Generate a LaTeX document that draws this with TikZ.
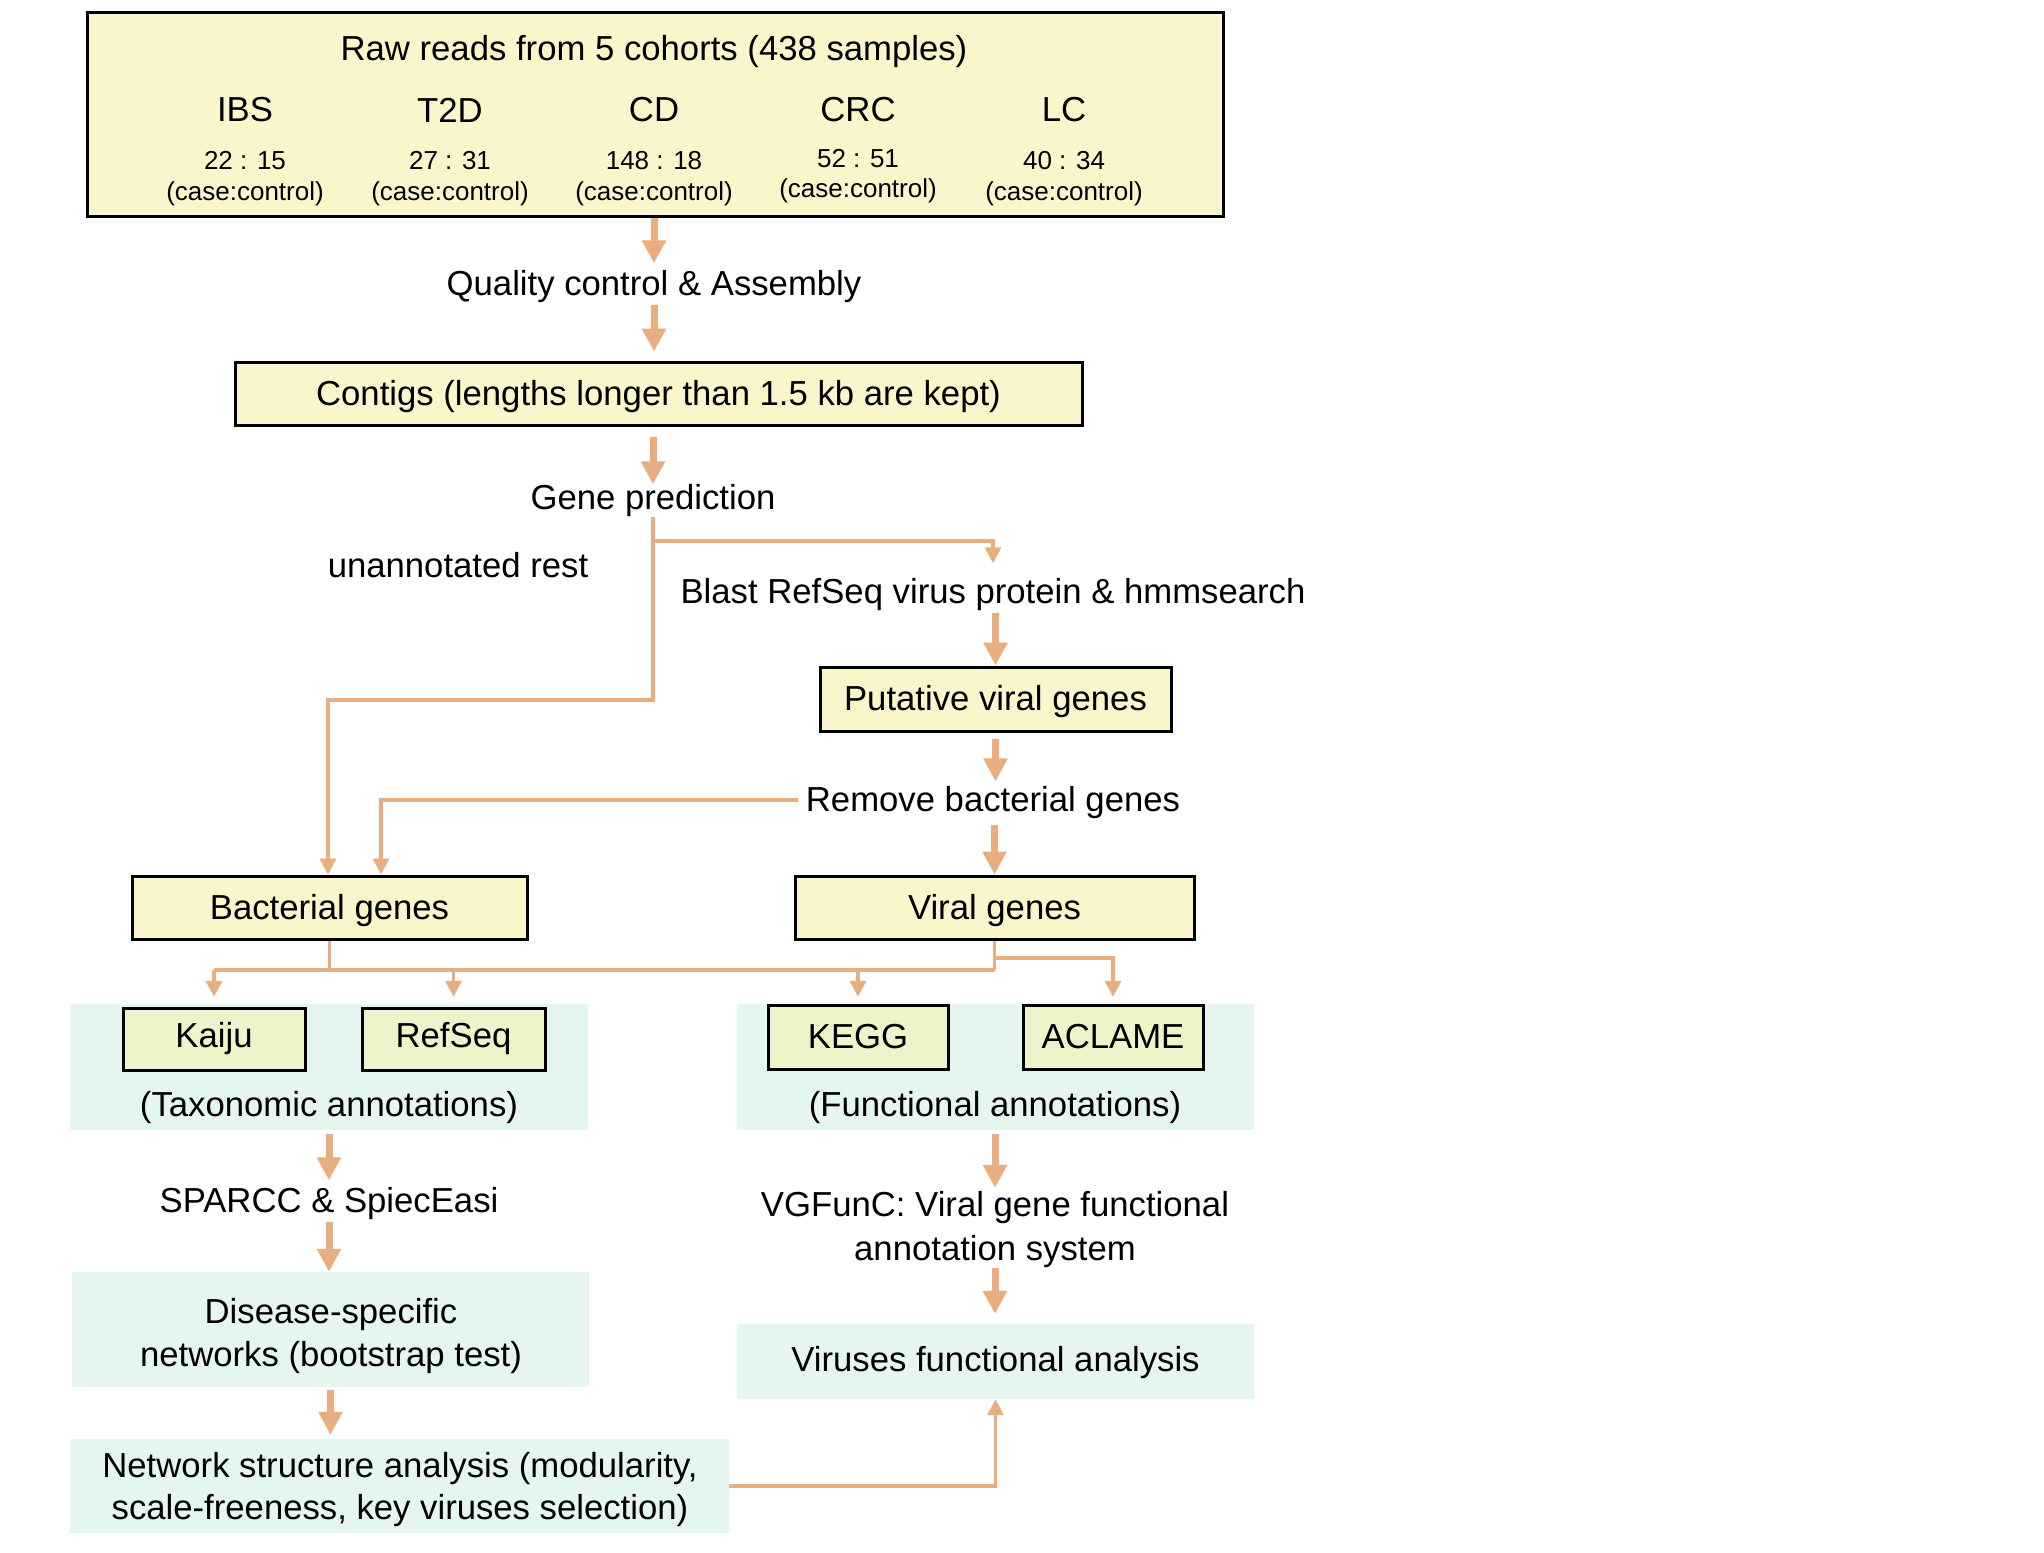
\documentclass[tikz,border=0pt]{standalone}
\usepackage{fontspec}
\setmainfont{Liberation Sans}
\usetikzlibrary{arrows.meta,calc}
\definecolor{ylw}{RGB}{251,245,203}
\definecolor{kfill}{RGB}{239,243,201}
\definecolor{grn}{RGB}{229,246,238}
\definecolor{arr}{RGB}{233,174,128}
\begin{document}
\begin{tikzpicture}[x=1pt,y=-1pt,
 every node/.style={font=\fontsize{34.7}{43}\selectfont, inner sep=0pt},
 ybox/.style={draw=black, line width=3pt, fill=ylw, text height=28pt, text depth=5pt},
 kbox/.style={draw=black, line width=3pt, fill=kfill},
 gpanel/.style={fill=grn},
 lbl/.style={text height=28pt, text depth=5pt, inner sep=4pt},
 small/.style={font=\fontsize{26}{30}\selectfont},
 thk/.style={draw=arr, line width=7pt, -{Triangle[width=23pt,length=23pt]}},
 thn/.style={draw=arr, line width=3.5pt},
 thna/.style={thn, -{Triangle[width=16pt,length=16pt]}},
]
\useasboundingbox (0,0) rectangle (2044,1552);

% top box
\node[ybox, minimum width=1136pt, minimum height=203pt] (raw) at (655,114.5) {};
\node (rawt) at (654,52) {Raw reads from 5 cohorts (438 samples)};
\node (ibs) at (245,110) {IBS};
\node (t2d) at (450,110) {T2D};
\node (cd)  at (654,110) {CD};
\node (crc) at (858,110) {CRC};
\node (lc)  at (1064,110) {LC};
\node[small] (r1) at (245,161) {22 : 15};
\node[small] (r2) at (450,161) {27 : 31};
\node[small] (r3) at (654,161) {148 : 18};
\node[small] (r4) at (858,159) {52 : 51};
\node[small] (r5) at (1064,161) {40 : 34};
\node[small] (c1) at (245,194) {(case:control)};
\node[small] (c2) at (450,194) {(case:control)};
\node[small] (c3) at (654,194) {(case:control)};
\node[small] (c4) at (858,191) {(case:control)};
\node[small] (c5) at (1064,194) {(case:control)};

\node[lbl] (qc) at (654,284) {Quality control \& Assembly};
\node[ybox, minimum width=847pt, minimum height=63pt] (contigs) at (658.5,393.5) {Contigs (lengths longer than 1.5 kb are kept)};
\node[lbl] (gp) at (653,498) {Gene prediction};
\node[lbl] (unann) at (458,566) {unannotated rest};
\node[lbl] (blast) at (993,592) {Blast RefSeq virus protein \& hmmsearch};
\node[ybox, minimum width=351pt, minimum height=64pt] (put) at (995.5,699) {Putative viral genes};
\node[lbl, inner sep=8pt] (remove) at (993,800) {Remove bacterial genes};
\node[ybox, minimum width=395pt, minimum height=63pt] (bact) at (329.5,907.5) {Bacterial genes};
\node[ybox, minimum width=399pt, minimum height=63pt] (viral) at (994.5,907.5) {Viral genes};

% annotation panels
\node[gpanel, minimum width=518pt, minimum height=126pt] (lpan) at (329,1067) {};
\node[gpanel, minimum width=517pt, minimum height=126pt] (rpan) at (995.5,1067) {};
\node[kbox, minimum width=182pt, minimum height=62pt] (kaiju) at (214,1039) {Kaiju};
\node[kbox, minimum width=183pt, minimum height=62pt] (refseq) at (453.5,1039) {RefSeq};
\node[kbox, minimum width=180pt, minimum height=64pt] (kegg) at (858,1037) {KEGG};
\node[kbox, minimum width=180pt, minimum height=64pt] (aclame) at (1113,1037) {ACLAME};
\node (taxl) at (329,1108) {(Taxonomic annotations)};
\node (funl) at (995,1108) {(Functional annotations)};

\node[lbl] (sparcc) at (329,1201) {SPARCC \& SpiecEasi};
\node[gpanel, minimum width=517pt, minimum height=115pt] (dis) at (330.5,1329.5) {};
\node[align=center, font=\fontsize{34.7}{43}\selectfont] (dist) at (331,1336) {Disease-specific\\networks (bootstrap test)};
\node[gpanel, minimum width=659pt, minimum height=94pt] (net) at (399.5,1486) {};
\node[align=center, font=\fontsize{34.7}{42}\selectfont] (nett) at (400,1490) {Network structure analysis (modularity,\\scale-freeness, key viruses selection)};

\node[minimum height=88pt, align=center, font=\fontsize{34.7}{44}\selectfont] (vgf) at (995,1230) {VGFunC: Viral gene functional\\annotation system};
\node[gpanel, minimum width=517pt, minimum height=75pt, text height=24pt, text depth=5pt] (vir) at (995.5,1361.5) {Viruses functional analysis};

% thick arrows
\draw[thk] (raw.south -| qc) -- (qc.north);
\draw[thk, shorten >=9pt] (qc.south) -- (contigs.north -| qc);
\draw[thk, shorten <=10pt, shorten >=-7pt] (contigs.south -| gp) -- (gp.north);
\draw[thk] (blast.south -| put) -- (put.north);
\draw[thk, shorten <=6pt, shorten >=-6pt] (put.south) -- (remove.north -| put);
\draw[thk] (remove.south -| viral) -- (viral.north);
\draw[thk, shorten <=4pt] (lpan.south -| sparcc) -- (sparcc.north);
\draw[thk] (sparcc.south) -- (dis.north -| sparcc);
\draw[thk, shorten <=3pt, shorten >=4pt] (dis.south) -- (net.north -| dis);
\draw[thk, shorten <=4pt, shorten >=-2pt] (rpan.south -| vgf) -- (vgf.north);
\draw[thk, shorten <=-6pt, shorten >=10pt] (vgf.south) -- (vir.north -| vgf);

% thin connectors
\draw[thn, line cap=rect] (gp.south) -- (gp.south |- 0,700) -| (bact.north -| 328,0) [-{Triangle[width=16pt,length=16pt]}];
\draw[thna] (gp.south |- 0,541) -| ($(blast.north -| 993,0)+(0,-8)$);
\draw[thna] (remove.west) -| (bact.north -| 381,0);

\draw[thn] (bact.south) -- (bact.south |- 0,970);
\draw[thn] (viral.south) -- (viral.south |- 0,970);
\draw[thn] (kaiju.north |- 0,970) -- (viral.south |- 0,970);
\draw[thna, shorten >=7pt] (kaiju.north |- 0,970) -- (kaiju.north |- lpan.north);
\draw[thna, shorten >=7pt] (refseq.north |- 0,970) -- (refseq.north |- lpan.north);
\draw[thna, shorten >=7pt] (kegg.north |- 0,970) -- (kegg.north |- rpan.north);
\draw[thna, shorten >=7pt] (viral.south |- 0,958) -| (aclame.north |- rpan.north);
\draw[thna] (net.east) -| (vir.south);
\end{tikzpicture}
\end{document}
